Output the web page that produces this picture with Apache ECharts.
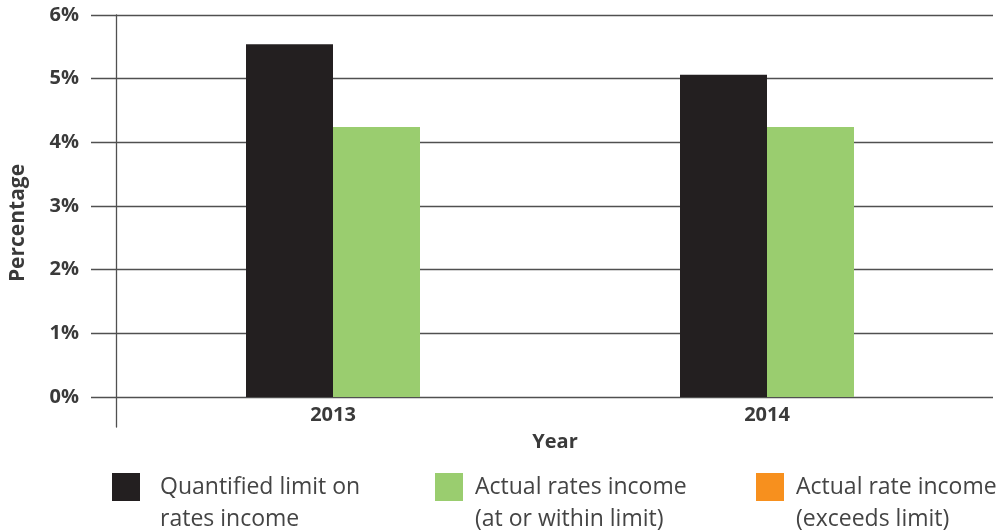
<!DOCTYPE html>
<html><head><meta charset="utf-8">
<script src="https://cdn.jsdelivr.net/npm/echarts@6/dist/echarts.min.js"></script>
<style>html,body{margin:0;padding:0;background:#fff}#c{width:1003px;height:530px}</style>
</head><body><div id="c"></div>
<script>
const years = ['2013', '2014'];
const quantifiedLimit = [5.54, 5.06];
const actualWithin = [4.24, 4.24];
const actualExceeds = [0, 0];
const yTicks = [0, 1, 2, 3, 4, 5, 6];
const names = ['Quantified limit on\nrates income', 'Actual rates income\n(at or within limit)', 'Actual rate income\n(exceeds limit)'];

const FONT = '"Open Sans", sans-serif';
const chart = echarts.init(document.getElementById('c'), null, {renderer: 'canvas'});
function legend(name, left, padLeft) {
  return {
    data: [name], left: left, top: 436, orient: 'horizontal',
    itemWidth: 28, itemHeight: 28, icon: 'rect', padding: 0,
    formatter: function (n) { return '\n' + n; },
    textStyle: {fontFamily: FONT, fontSize: 23, color: '#444', lineHeight: 32, padding: [0, 0, 6, padLeft]}
  };
}
chart.setOption({
  animation: false,
  grid: [
    {left: 90, right: 10, top: 15, bottom: 133},
    {left: 116, right: 19, top: 15, bottom: 133},
    {left: 116, right: 19, top: 15, bottom: 103}
  ],
  legend: [legend(names[0], 112, 15), legend(names[1], 435, 7), legend(names[2], 756, 7)],
  xAxis: [
    {gridIndex: 0, type: 'value', show: false, min: 0, max: 1},
    {gridIndex: 1, type: 'category', data: years,
     name: 'Year', nameLocation: 'middle', nameGap: 35,
     nameTextStyle: {fontFamily: FONT, fontSize: 20, fontWeight: 'bold', color: '#3a3a3a', padding: [0, 0, 0, 10]},
     axisLine: {show: false}, axisTick: {show: false},
     axisLabel: {fontFamily: FONT, fontSize: 20, fontWeight: 'bold', color: '#3a3a3a', margin: 8}},
    {gridIndex: 2, type: 'value', show: false, min: 0, max: 1}
  ],
  yAxis: [
    {gridIndex: 0, type: 'value', min: 0, max: 6, interval: 1,
     name: 'Percentage', nameLocation: 'middle', nameGap: 62,
     nameTextStyle: {fontFamily: FONT, fontSize: 21, fontWeight: 'bold', color: '#3a3a3a', padding: [0, 34, 0, 0]},
     axisLine: {show: false}, axisTick: {show: false},
     axisLabel: {fontFamily: FONT, fontSize: 20, fontWeight: 'bold', color: '#3a3a3a', margin: 12,
       formatter: function (v) { return yTicks.indexOf(v) >= 0 ? v + '%' : ''; }},
     splitLine: {show: true, lineStyle: {color: '#505050', width: 1.3}}},
    {gridIndex: 1, type: 'value', min: 0, max: 6, interval: 1, show: false},
    {gridIndex: 2, type: 'value', min: 0, max: 1,
     axisLine: {show: true, lineStyle: {color: '#505050', width: 1.3}},
     axisTick: {show: false}, axisLabel: {show: false}, splitLine: {show: false}}
  ],
  series: [
    {name: names[0], type: 'bar', xAxisIndex: 1, yAxisIndex: 1, data: quantifiedLimit,
     barWidth: 87, barGap: '0%', itemStyle: {color: '#231f20'}},
    {name: names[1], type: 'bar', xAxisIndex: 1, yAxisIndex: 1, data: actualWithin, stack: 'actual',
     barWidth: 87, barGap: '0%', itemStyle: {color: '#9acd6f'}},
    {name: names[2], type: 'bar', xAxisIndex: 1, yAxisIndex: 1, data: actualExceeds, stack: 'actual',
     barWidth: 87, barGap: '0%', itemStyle: {color: '#f7901e'}}
  ]
});
</script></body></html>
